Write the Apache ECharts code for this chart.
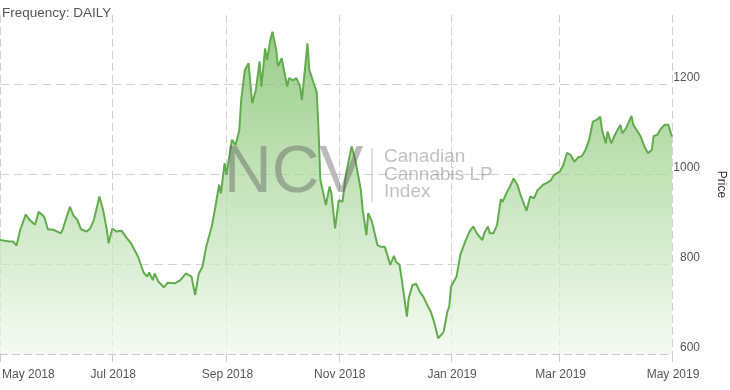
<!DOCTYPE html>
<html>
<head>
<meta charset="utf-8">
<script src="https://cdn.jsdelivr.net/npm/echarts@6/dist/echarts.min.js"></script>
<style>
html,body{margin:0;padding:0;background:#fff;}
#chart{width:730px;height:390px;}
</style>
</head>
<body>
<div id="chart"></div>
<script>
const dates = [
'2018-05-01','2018-05-02','2018-05-06','2018-05-08','2018-05-10','2018-05-12','2018-05-15','2018-05-17','2018-05-20','2018-05-22',
'2018-05-25','2018-05-27','2018-05-30','2018-06-03','2018-06-04','2018-06-08','2018-06-10','2018-06-12','2018-06-14','2018-06-17',
'2018-06-19','2018-06-21','2018-06-24','2018-06-26','2018-06-28','2018-06-29','2018-07-01','2018-07-03','2018-07-06','2018-07-09',
'2018-07-11','2018-07-12','2018-07-15','2018-07-18','2018-07-20','2018-07-21','2018-07-23','2018-07-24','2018-07-26','2018-07-29',
'2018-07-31','2018-08-01','2018-08-04','2018-08-07','2018-08-10','2018-08-13','2018-08-15','2018-08-17','2018-08-18','2018-08-19',
'2018-08-21','2018-08-24','2018-08-26','2018-08-28','2018-08-29','2018-08-31','2018-09-01','2018-09-04','2018-09-06','2018-09-08',
'2018-09-09','2018-09-11','2018-09-13','2018-09-15','2018-09-17','2018-09-19','2018-09-20','2018-09-22','2018-09-23','2018-09-25',
'2018-09-26','2018-09-28','2018-09-29','2018-10-01','2018-10-02','2018-10-04','2018-10-05','2018-10-07','2018-10-09','2018-10-11',
'2018-10-12','2018-10-15','2018-10-16','2018-10-19','2018-10-20','2018-10-21','2018-10-22','2018-10-24','2018-10-25','2018-10-27',
'2018-10-28','2018-10-30','2018-10-31','2018-11-01','2018-11-03','2018-11-05','2018-11-08','2018-11-10','2018-11-13','2018-11-14',
'2018-11-16','2018-11-17','2018-11-19','2018-11-22','2018-11-24','2018-11-26','2018-11-29','2018-12-01','2018-12-02','2018-12-04',
'2018-12-05','2018-12-08','2018-12-09','2018-12-11','2018-12-13','2018-12-15','2018-12-17','2018-12-19','2018-12-21','2018-12-23',
'2018-12-25','2018-12-27','2018-12-28','2018-12-30','2018-12-31','2019-01-01','2019-01-04','2019-01-06','2019-01-07','2019-01-09',
'2019-01-11','2019-01-13','2019-01-15','2019-01-16','2019-01-18','2019-01-19','2019-01-21','2019-01-22','2019-01-24','2019-01-26',
'2019-01-28','2019-01-29','2019-01-31','2019-02-01','2019-02-02','2019-02-04','2019-02-06','2019-02-08','2019-02-11','2019-02-13',
'2019-02-15','2019-02-17','2019-02-18','2019-02-20','2019-02-22','2019-02-24','2019-02-26','2019-02-27','2019-03-01','2019-03-03',
'2019-03-05','2019-03-07','2019-03-09','2019-03-11','2019-03-13','2019-03-15','2019-03-17','2019-03-19','2019-03-21','2019-03-23',
'2019-03-24','2019-03-26','2019-03-27','2019-03-29','2019-03-31','2019-04-03','2019-04-04','2019-04-06','2019-04-09','2019-04-10',
'2019-04-11','2019-04-14','2019-04-16','2019-04-18','2019-04-20','2019-04-21','2019-04-23','2019-04-25','2019-04-27','2019-04-29',
'2019-05-01'
];
const prices = [
853,853,850,850,841,876,910,898,887,916,
905,877,876,868,876,927,907,898,877,872,
879,898,950,920,876,846,879,872,874,857,
847,848,816,781,772,781,764,779,761,748,
758,757,757,764,779,772,731,779,776,794,
838,883,927,976,957,1024,998,1076,1064,1098,
1164,1231,1246,1157,1187,1250,1194,1279,1253,1301,
1316,1276,1239,1257,1261,1194,1213,1208,1213,1194,
1164,1290,1231,1194,1183,1098,987,950,931,972,
957,879,879,942,938,1001,1061,1031,964,920,
864,913,894,842,838,838,798,818,805,798,
772,683,724,753,756,738,727,709,694,668,
635,644,650,694,705,750,772,820,818,853,
872,883,868,867,853,868,883,868,868,887,
944,938,957,961,972,990,976,950,918,950,
946,964,962,976,980,985,998,996,1005,1020,
1047,1042,1027,1037,1039,1053,1076,1116,1120,1127,
1098,1068,1094,1068,1087,1109,1090,1101,1129,1109,
1112,1083,1061,1046,1053,1084,1087,1101,1109,1109,
1083
];
const yTicks = [600, 800, 1000, 1200];
const monthNames = ['Jan','Feb','Mar','Apr','May','Jun','Jul','Aug','Sep','Oct','Nov','Dec'];
const seriesData = dates.map((d, i) => [d, prices[i]]);

const FONT = "'Liberation Sans', Arial, sans-serif";
const chart = echarts.init(document.getElementById('chart'), null, {renderer: 'canvas'});
chart.setOption({
  animation: false,
  backgroundColor: '#ffffff',
  grid: {left: 0, right: 58, top: 15, bottom: 36, containLabel: false, outerBoundsMode: 'none'},
  xAxis: {
    type: 'time',
    min: '2018-05-01',
    max: '2019-05-01',
    splitNumber: 6,
    axisLine: {show: true, lineStyle: {color: '#c8c8d0', type: [8, 4], width: 1}},
    axisTick: {show: true, length: 8, lineStyle: {color: '#cccccc'}},
    splitLine: {show: true, lineStyle: {color: '#d2d2d2', type: [8, 4], width: 1}},
    minorTick: {show: false},
    axisLabel: {
      color: '#555555', fontSize: 12, fontFamily: FONT, margin: 15,
      showMinLabel: true, showMaxLabel: true, alignMinLabel: 'left', padding: [0, 0, 0, 2],
      formatter: function (v) { const d = new Date(v); return monthNames[d.getMonth()] + ' ' + d.getFullYear(); }
    }
  },
  yAxis: {
    type: 'value',
    position: 'right',
    min: 600,
    max: 1353,
    interval: 200,
    name: 'Price',
    nameLocation: 'middle',
    nameRotate: -90,
    nameGap: 43,
    nameTextStyle: {color: '#333333', fontSize: 12, fontFamily: FONT},
    axisLine: {show: false},
    axisTick: {show: false},
    splitLine: {show: true, showMinLine: false, showMaxLine: false, lineStyle: {color: '#d2d2d2', type: [9, 5], width: 1}},
    axisLabel: {
      color: '#555555', fontSize: 12, fontFamily: FONT, align: 'right', verticalAlign: 'bottom', margin: 28,
      showMaxLabel: false,
      formatter: function (v) { return yTicks.indexOf(v) >= 0 ? String(v) : ''; }
    }
  },
  series: [{
    type: 'line',
    data: seriesData,
    showSymbol: false,
    symbol: 'none',
    lineStyle: {color: '#62ac4e', width: 2},
    itemStyle: {color: '#62ac4e'},
    areaStyle: {
      color: new echarts.graphic.LinearGradient(0, 0, 0, 1, [
        {offset: 0, color: '#6fb659'},
        {offset: 0.45, color: '#a9d69a'},
        {offset: 1, color: '#f0f8ee'}
      ])
    },
    z: 2
  }],
  graphic: [
    {type: 'text', left: 2, top: 6, z: 10, style: {text: 'Frequency: DAILY', fill: '#555555', font: "13.5px " + FONT}},
    {type: 'text', x: 224, y: 174, z: 10, silent: true, style: {text: 'NCV', fill: 'rgba(90,90,90,0.42)', font: "66px " + FONT, verticalAlign: 'middle'}},
    {type: 'line', z: 10, silent: true, shape: {x1: 372, y1: 148, x2: 372, y2: 202}, style: {stroke: 'rgba(120,120,120,0.3)', lineWidth: 1.5}},
    {type: 'text', x: 384, y: 157, z: 10, silent: true, style: {text: 'Canadian', fill: 'rgba(90,90,90,0.38)', font: "19px " + FONT, verticalAlign: 'middle'}},
    {type: 'text', x: 384, y: 174.5, z: 10, silent: true, style: {text: 'Cannabis LP', fill: 'rgba(90,90,90,0.38)', font: "19px " + FONT, verticalAlign: 'middle'}},
    {type: 'text', x: 384, y: 192, z: 10, silent: true, style: {text: 'Index', fill: 'rgba(90,90,90,0.38)', font: "19px " + FONT, verticalAlign: 'middle'}}
  ]
});
</script>
</body>
</html>
